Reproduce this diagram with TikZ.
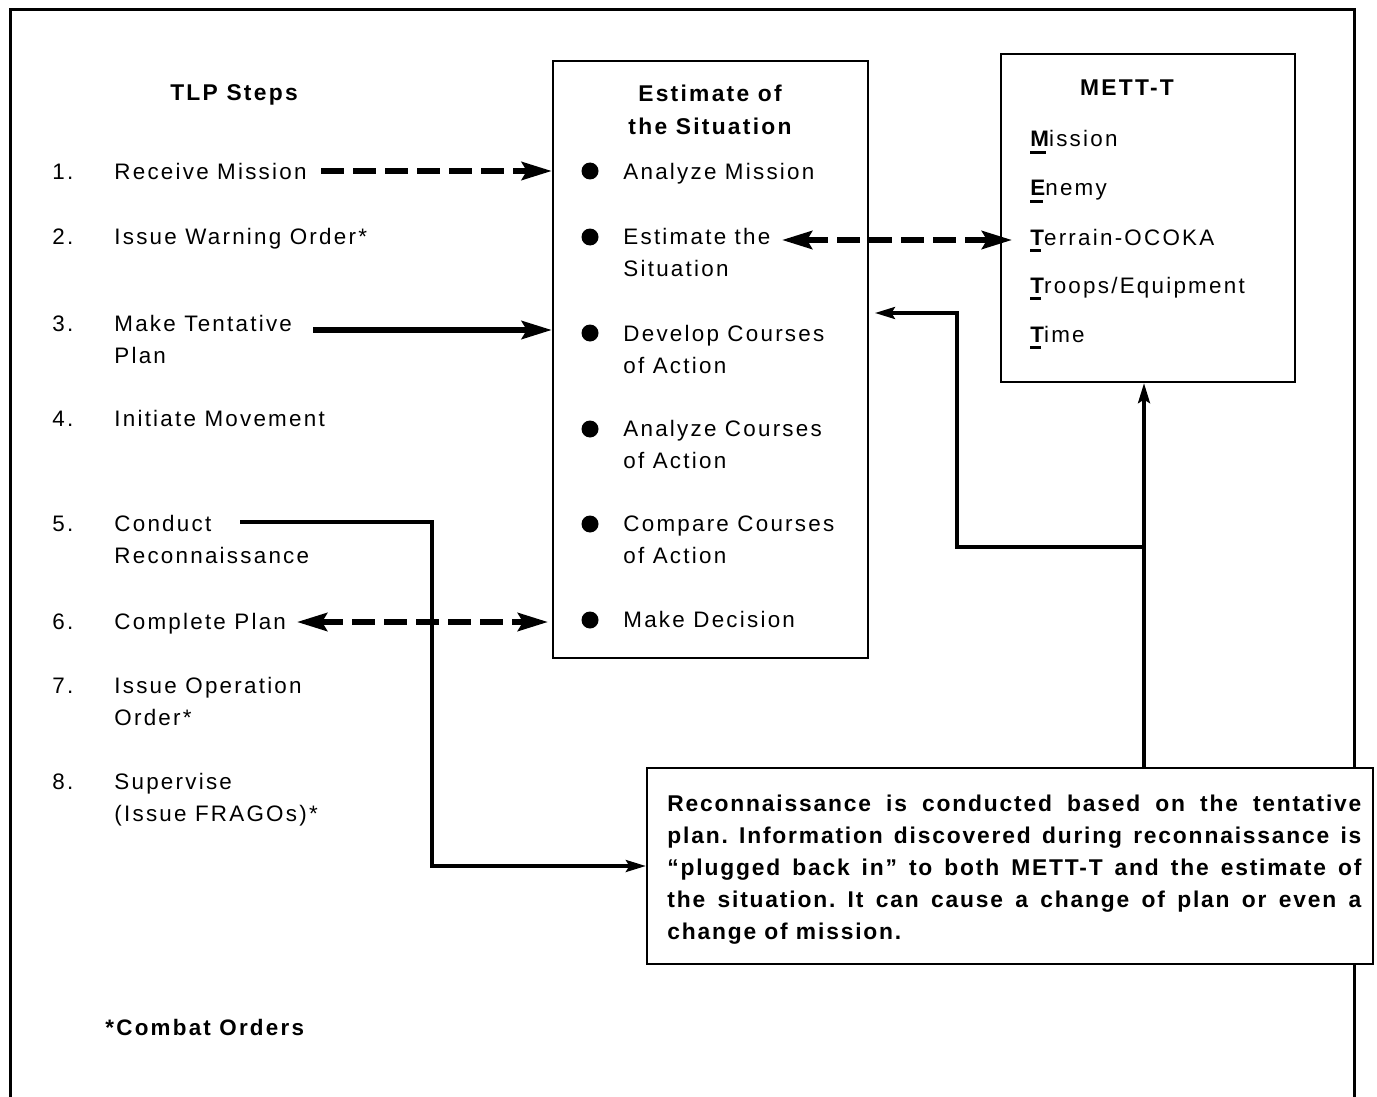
\documentclass[tikz,border=0pt]{standalone}
\usepackage{fontspec}
\setmainfont{Liberation Sans}
\newfontfamily\lblfont{Liberation Sans}[LetterSpace=10, Ligatures=TeX]
\newfontfamily\notefont{Liberation Sans}[LetterSpace=8, Ligatures=TeX]
\usetikzlibrary{arrows.meta}

% bold initial with a short bar under it
\newcommand\keyletter[1]{\setbox0\hbox{\bfseries #1}\rlap{\rule[-3.6pt]{\dimexpr\wd0-1.3pt\relax}{1.6pt}}\box0}
% one fully justified line of the note
\newcommand\fitline[1]{\makebox[347pt][s]{#1}}

\begin{document}
\frenchspacing
\begin{tikzpicture}[x=0.5pt,y=-0.5pt,
  lbl/.style={font=\lblfont\fontsize{11.2pt}{16pt}\selectfont, inner sep=0pt, anchor=base west, align=left},
  head/.style={font=\lblfont\bfseries\fontsize{11.4pt}{16.5pt}\selectfont, inner sep=0pt, anchor=base, align=center},
  note/.style={font=\notefont\bfseries\fontsize{11.4pt}{16pt}\selectfont, inner sep=0pt, anchor=base west, align=left},
  panel/.style={draw, line width=1.2pt, fill=white, inner sep=0pt},
  dot/.style={circle, fill, inner sep=0pt, minimum size=8.5pt},
  heavy/.style={line width=2.8pt},
  dashy/.style={heavy, dash pattern=on 11.5pt off 4.5pt},
  bigarrow/.style={-{Stealth[length=15pt,width=9pt,inset=2.5pt]}},
  bigboth/.style={{Stealth[length=15pt,width=9pt,inset=2.5pt]}-{Stealth[length=15pt,width=9pt,inset=2.5pt]}},
  link/.style={line width=1.6pt, -{Stealth[length=10pt,width=6pt,inset=1.8pt]}},
]
\useasboundingbox (0,0) rectangle (1377,1097);

% outer frame, open at the bottom
\draw[line width=1.5pt] (10,1110) -- (10,10) -- (1354,10) -- (1354,1110);

% panels
\node[panel, minimum width=157.5pt, minimum height=298.5pt] (est) at (710.5,359.5) {};
\node[panel, minimum width=147pt, minimum height=164pt] (mett) at (1148,218) {};
\node[panel, minimum width=363pt, minimum height=98pt] (recon) at (1010,866) {};

% troop leading procedure steps (multi-line labels sit on their last baseline)
\node[head] (tlp) at (234,101) {TLP Steps};
\node[lbl] (n1) at (52,179) {1.};
\node[lbl] (n2) at (52,244) {2.};
\node[lbl] (n3) at (52,331) {3.};
\node[lbl] (n4) at (52,426) {4.};
\node[lbl] (n5) at (52,531) {5.};
\node[lbl] (n6) at (52,629) {6.};
\node[lbl] (n7) at (52,693) {7.};
\node[lbl] (n8) at (52,789) {8.};
\node[lbl] (s1) at (114,179) {Receive Mission};
\node[lbl] (s2) at (114,244) {Issue Warning Order*};
\node[lbl] (s3) at (114,363) {Make Tentative\\Plan};
\node[lbl] (s4) at (114,426) {Initiate Movement};
\node[lbl] (s5) at (114,563) {Conduct\\Reconnaissance};
\node[lbl] (s6) at (114,629) {Complete Plan};
\node[lbl] (s7) at (114,725) {Issue Operation\\Order*};
\node[lbl] (s8) at (114,821) {Supervise\\(Issue FRAGOs)*};
\node[lbl, font=\lblfont\bfseries\fontsize{11.2pt}{16pt}\selectfont] (foot) at (105,1035) {*Combat Orders};

% estimate of the situation
\node[head] (estT) at (710,134) {Estimate of\\the Situation};
\node[dot] (b1) at (590,171) {};
\node[dot] (b2) at (590,237) {};
\node[dot] (b3) at (590,333) {};
\node[dot] (b4) at (590,429) {};
\node[dot] (b5) at (590,524) {};
\node[dot] (b6) at (590,620) {};
\node[lbl] (e1) at (623,179) {Analyze Mission};
\node[lbl] (e2) at (623,276) {Estimate the\\Situation};
\node[lbl] (e3) at (623,373) {Develop Courses\\of Action};
\node[lbl] (e4) at (623,468) {Analyze Courses\\of Action};
\node[lbl] (e5) at (623,563) {Compare Courses\\of Action};
\node[lbl] (e6) at (623,627) {Make Decision};

% METT-T factors
\node[head] (mettT) at (1127,96) {METT-T};
\node[lbl] (m1) at (1030,147) {\keyletter{M}ission};
\node[lbl] (m2) at (1030,196) {\keyletter{E}nemy};
\node[lbl] (m3) at (1030,245) {\keyletter{T}errain-OCOKA};
\node[lbl] (m4) at (1030,293) {\keyletter{T}roops/Equipment};
\node[lbl] (m5) at (1030,342) {\keyletter{T}ime};

% note on reconnaissance
\node[note] (rtext) at (667,939) {%
\fitline{Reconnaissance is conducted based on the tentative}\\
\fitline{plan. Information discovered during reconnaissance is}\\
\fitline{``plugged back in'' to both METT-T and the estimate of}\\
\fitline{the situation. It can cause a change of plan or even a}\\
change of mission.};

% connectors
\draw[dashy, bigarrow] ([xshift=7pt]s1.east) -- (s1.east -| est.west);
\coordinate (mt) at (313,330);
\draw[heavy, bigarrow] (mt) -- (mt -| est.west);
\coordinate (et) at (782,240);
\coordinate (tr) at (1012,240);
\draw[dashy, bigboth] (et) -- (tr);
\coordinate (cp) at (297,622);
\coordinate (md) at (548,622);
\draw[dashy, bigboth] (cp) -- (md);
\coordinate (cr) at (240,522);
\draw[link] (cr) -- (432,522) |- (recon.west);
\coordinate (rise) at (1144,547);
\coordinate (fb) at (875,313);
\draw[link] (rise |- recon.north) -- (rise |- mett.south);
\draw[link] (rise) -- (957,547) -- (957,313) -- (fb);
\end{tikzpicture}
\end{document}
